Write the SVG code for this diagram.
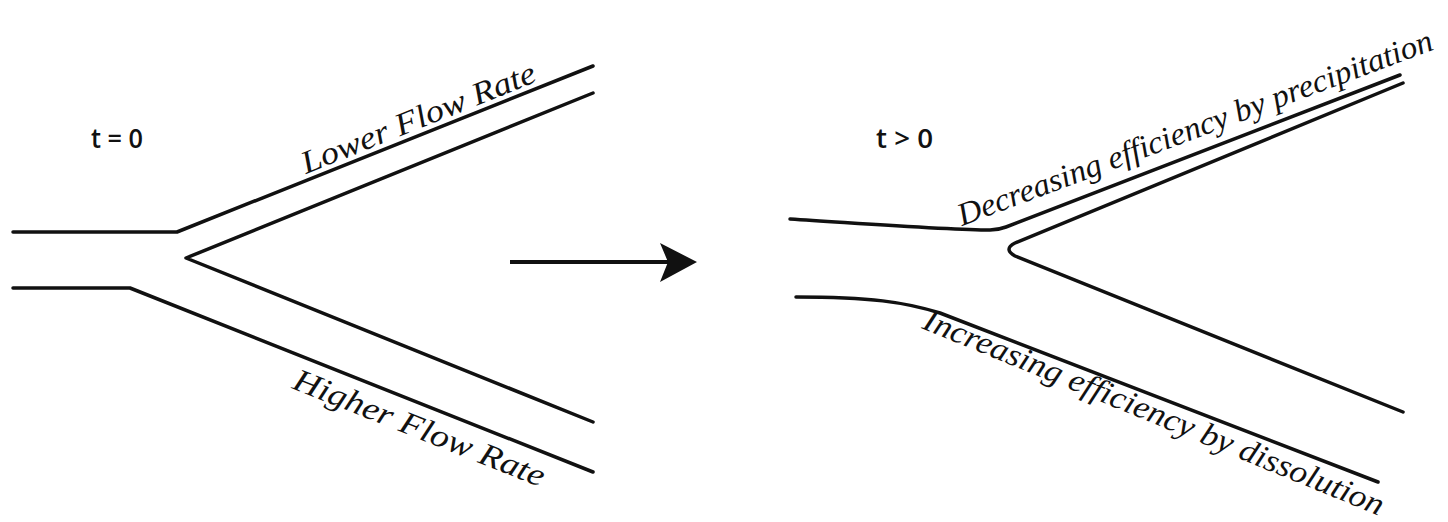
<svg xmlns="http://www.w3.org/2000/svg" width="1448" height="522" viewBox="0 0 1448 522">
  <style>
    .wall { fill: none; stroke: #111; stroke-width: 3.5; stroke-linecap: round; stroke-linejoin: round; }
    .time { font-family: "Open Sans", "Liberation Sans", sans-serif; font-weight: 600; font-size: 27px; fill: #111; }
    .lbl { font-family: "Liberation Serif", serif; font-style: italic; font-size: 32px; fill: #111; }
  </style>

  <!-- initial state: symmetric bifurcation -->
  <g id="initial">
    <path class="wall" d="M13,232 L177,232 L593,66"/>
    <path class="wall" d="M593,93 L186,258 L593,422"/>
    <path class="wall" d="M13,288 L130,288 L593,472"/>
    <text class="time" x="91" y="148" textLength="52" lengthAdjust="spacingAndGlyphs">t = 0</text>
    <text class="lbl" transform="translate(306,174) rotate(-21.8)" textLength="250" lengthAdjust="spacingAndGlyphs">Lower Flow Rate</text>
    <text class="lbl" transform="translate(291,388) rotate(21.7)" textLength="268" lengthAdjust="spacingAndGlyphs">Higher Flow Rate</text>
  </g>

  <!-- transition arrow -->
  <g id="connectors">
    <line x1="510" y1="262" x2="668" y2="262" stroke="#111" stroke-width="4"/>
    <path d="M697,262 L660,243 L668,262 L660,282 Z" fill="#111"/>
  </g>

  <!-- later state: narrowed upper branch, widened lower branch -->
  <g id="evolved">
    <path class="wall" d="M790,219 C870,224 950,230 990,230 Q998,230 1006,227 L1400,75"/>
    <path class="wall" d="M1403,83 L1015,243 Q1003,249 1015,256 L1403,412"/>
    <path class="wall" d="M796,297 C870,297 905,302 940,313 L1378,482"/>
    <text class="time" x="876" y="148" textLength="57" lengthAdjust="spacingAndGlyphs">t &gt; 0</text>
    <text class="lbl" transform="translate(962,226) rotate(-20.5)" textLength="505" lengthAdjust="spacingAndGlyphs">Decreasing efficiency by precipitation</text>
    <text class="lbl" transform="translate(921,328) rotate(22.3)" textLength="495" lengthAdjust="spacingAndGlyphs">Increasing efficiency by dissolution</text>
  </g>
</svg>
